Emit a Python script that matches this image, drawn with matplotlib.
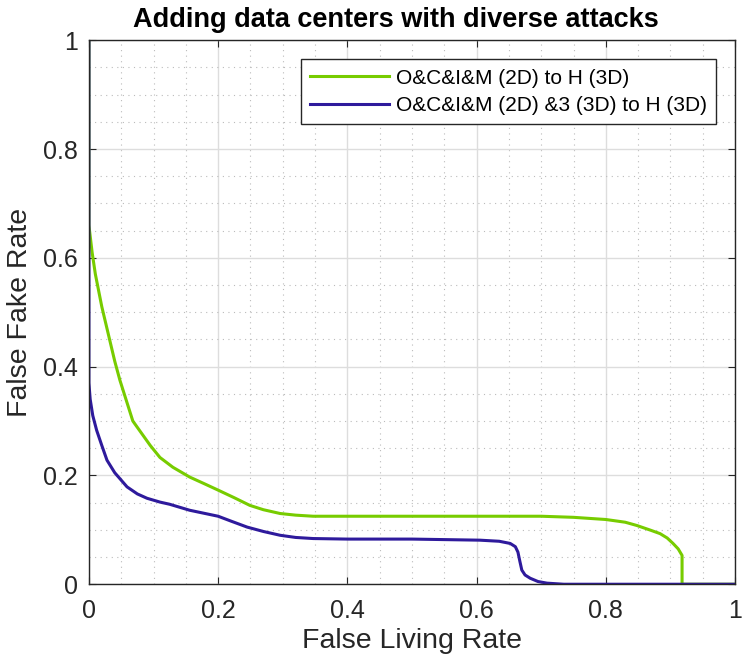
import matplotlib.pyplot as plt
import numpy as np

plt.rcParams["font.family"] = ["Liberation Sans", "DejaVu Sans"]

# green: O&C&I&M (2D) to H (3D)
green_x = [0.0, 0.0, 0.005, 0.01, 0.02, 0.03, 0.04, 0.048, 0.06, 0.068, 0.08, 0.095,
           0.11, 0.13, 0.156, 0.18, 0.2, 0.225, 0.249, 0.27, 0.296, 0.32, 0.347, 0.4,
           0.5, 0.6, 0.7, 0.75, 0.8, 0.83, 0.848, 0.87, 0.884, 0.895, 0.904, 0.912,
           0.918, 0.918, 0.95, 1.0]
green_y = [1.0, 0.66, 0.61, 0.57, 0.51, 0.46, 0.41, 0.375, 0.33, 0.30, 0.28, 0.255,
           0.233, 0.215, 0.197, 0.184, 0.173, 0.159, 0.145, 0.137, 0.130, 0.127, 0.125,
           0.125, 0.125, 0.125, 0.125, 0.123, 0.119, 0.114, 0.108, 0.099, 0.093, 0.085,
           0.075, 0.065, 0.053, 0.0, 0.0, 0.0]

# blue: O&C&I&M (2D) &3 (3D) to H (3D)
blue_x = [0.0, 0.0, 0.002, 0.006, 0.012, 0.02, 0.028, 0.04, 0.059, 0.075, 0.09, 0.11,
          0.125, 0.156, 0.2, 0.22, 0.245, 0.27, 0.296, 0.32, 0.347, 0.4, 0.5, 0.605,
          0.635, 0.652, 0.66, 0.664, 0.667, 0.670, 0.675, 0.683, 0.695, 0.709, 0.735,
          0.8, 1.0]
blue_y = [1.0, 0.37, 0.34, 0.31, 0.283, 0.255, 0.228, 0.205, 0.179, 0.166, 0.158, 0.151,
          0.147, 0.136, 0.125, 0.116, 0.105, 0.097, 0.090, 0.086, 0.084, 0.083, 0.083,
          0.081, 0.079, 0.075, 0.069, 0.059, 0.042, 0.026, 0.017, 0.011, 0.005, 0.002,
          0.0, 0.0, 0.0]

tick_vals = [0, 0.2, 0.4, 0.6, 0.8, 1]
tick_labels = ["0", "0.2", "0.4", "0.6", "0.8", "1"]

fig = plt.figure(figsize=(7.47, 6.70), dpi=100)
ax = fig.add_axes([0.119, 0.128, 0.865, 0.812])

ax.plot(green_x, green_y, color="#77CC00", linewidth=2.2,
        label="O&C&I&M (2D) to H (3D)")
ax.plot(blue_x, blue_y, color="#2E1A9C", linewidth=2.2,
        label="O&C&I&M (2D) &3 (3D) to H (3D)")

ax.set_xlim(0, 1)
ax.set_ylim(0, 1)
ax.set_xticks(tick_vals, tick_labels)
ax.set_yticks(tick_vals, tick_labels)
ax.set_xticks(np.arange(0, 1.001, 0.05), minor=True)
ax.set_yticks(np.arange(0, 1.001, 0.05), minor=True)
ax.grid(which="major", color="#DDDDDD", linewidth=1.0)
ax.grid(which="minor", color="#BBBBBB", linestyle=(0, (1, 4)), linewidth=0.8)
ax.set_axisbelow(True)
ax.tick_params(which="both", direction="in", top=True, right=True,
               labelsize=18, colors="#262626")
ax.tick_params(which="major", length=5)
ax.tick_params(axis="x", which="major", pad=10.5)
ax.tick_params(axis="y", which="major", pad=8)
ax.tick_params(which="minor", length=0)
for s in ax.spines.values():
    s.set_color("#262626")
    s.set_linewidth(1.0)

ax.set_xlabel("False Living Rate", fontsize=20.5, color="#262626", labelpad=4)
ax.set_ylabel("False Fake Rate", fontsize=20.5, color="#262626", labelpad=7)
ax.set_title("Adding data centers with diverse attacks", fontsize=19.5,
             fontweight="bold", pad=9.5, x=0.475)

leg = ax.legend(loc="upper right", bbox_to_anchor=(0.9706, 0.965), fontsize=15,
                fancybox=False, framealpha=1, edgecolor="#262626",
                handlelength=3.8, handletextpad=0.3, borderpad=0.45,
                labelspacing=0.4, borderaxespad=0)
leg.get_frame().set_linewidth(1.0)

fig.savefig("out.png", dpi=100)
